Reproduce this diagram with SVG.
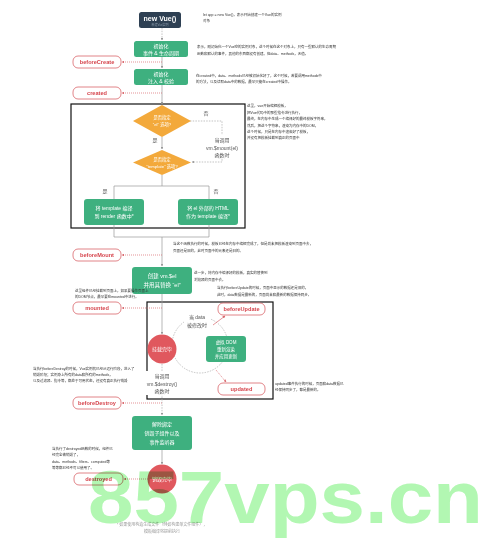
<svg xmlns="http://www.w3.org/2000/svg" width="500" height="544" viewBox="0 0 500 544">
<style>
text{font-family:"Liberation Sans","Noto Sans CJK SC",sans-serif;dominant-baseline:central}
.box{fill:#3eb07f}
.nav{fill:#2e4053}
.dia{fill:#f3a93b}
.circ{fill:#e0585e}
.wt{fill:#fff;font-size:5px;text-anchor:middle}
.ann{fill:#333;font-size:3.5px}
.lab{fill:#555;font-size:5px;text-anchor:middle}
.hook rect{fill:#fff;stroke:#d9666b;stroke-width:0.8}
.hook text{fill:#d6454d;font-size:5.6px;text-anchor:middle;font-weight:bold}
.hl{stroke:#d9666b;stroke-width:0.7;stroke-dasharray:1 1;fill:none}
.ml{stroke:#999;stroke-width:0.7;fill:none}
.dl{stroke:#aaa;stroke-width:0.7;stroke-dasharray:1.5 1.2;fill:none}
.frame{fill:none;stroke:#111;stroke-width:1.2}
</style>
<defs>
<marker id="ag" viewBox="0 0 6 6" refX="5" refY="3" markerWidth="4" markerHeight="4" orient="auto"><path d="M0,0L6,3L0,6Z" fill="#999"/></marker>
<marker id="ar" viewBox="0 0 6 6" refX="5" refY="3" markerWidth="4" markerHeight="4" orient="auto"><path d="M0,0L6,3L0,6Z" fill="#d9666b"/></marker>
</defs>
<rect width="500" height="544" fill="#fff"/>

<g id="frames">
<rect class="frame" x="71" y="104" width="174" height="124"/>
<rect class="frame" x="147" y="302" width="126" height="97"/>
</g>

<g id="connectors">
<line class="dl" x1="162" y1="28" x2="162" y2="40" marker-end="url(#ag)"/>
<line class="ml" x1="162" y1="57" x2="162" y2="68" marker-end="url(#ag)"/>
<line class="ml" x1="162" y1="85" x2="162" y2="104" marker-end="url(#ag)"/>
<line class="ml" x1="162" y1="137" x2="162" y2="149" marker-end="url(#ag)"/>
<path class="dl" d="M190,121H222V162H192" marker-end="url(#ag)"/>
<path class="ml" d="M162,175V186M114,199V186H209V199"/>
<path class="ml" d="M114,225V237H209V225M162,237V266" marker-end="url(#ag)"/>
<line class="ml" x1="162" y1="294" x2="162" y2="334" marker-end="url(#ag)"/>
<line class="dl" x1="162" y1="364" x2="162" y2="415" marker-end="url(#ag)"/>
<line class="ml" x1="162" y1="450" x2="162" y2="464" marker-end="url(#ag)"/>
<circle class="dl" cx="200" cy="345" r="28"/>
<line stroke="#d9666b" stroke-width="0.7" x1="213" y1="325" x2="225" y2="316" marker-end="url(#ar)"/>
<line class="hl" x1="216" y1="370" x2="226" y2="382" marker-end="url(#ar)"/>
<line class="hl" x1="162" y1="62" x2="122" y2="62" marker-end="url(#ar)"/>
<line class="hl" x1="162" y1="93" x2="122" y2="93" marker-end="url(#ar)"/>
<line class="hl" x1="162" y1="255" x2="122" y2="255" marker-end="url(#ar)"/>
<line class="hl" x1="162" y1="308" x2="122" y2="308" marker-end="url(#ar)"/>
<line class="hl" x1="162" y1="403" x2="122" y2="403" marker-end="url(#ar)"/>
<line class="hl" x1="148" y1="479" x2="124" y2="479" marker-end="url(#ar)"/>
</g>

<g id="labels">
<text class="lab" x="206" y="113">否</text>
<text class="lab" x="155" y="140">是</text>
<text class="lab" x="105" y="191">是</text>
<text class="lab" x="216" y="191">否</text>
<rect x="208" y="135" width="28" height="24" fill="#fff"/>
<text class="lab" x="222" y="140">当调用</text>
<text class="lab" x="222" y="148">vm.$mount(el)</text>
<text class="lab" x="222" y="155">函数时</text>
<rect x="184" y="313" width="27" height="16" fill="#fff"/>
<text class="lab" x="197" y="317">当 data</text>
<text class="lab" x="197" y="325">被修改时</text>
<rect x="146" y="371" width="32" height="24" fill="#fff"/>
<text class="lab" x="162" y="376">当调用</text>
<text class="lab" x="162" y="384">vm.$destroy()</text>
<text class="lab" x="162" y="391">函数时</text>
</g>

<g id="newvue">
<rect class="nav" x="139" y="12" width="42" height="16" rx="2.5"/>
<text class="wt" x="160" y="18" style="font-size:7px;font-weight:bold">new Vue()</text>
<text class="wt" x="160" y="24.5" style="font-size:3px;fill:#8a9aab">新建Vue实例</text>
</g>
<g id="init-events">
<rect class="box" x="134" y="41" width="54" height="16" rx="2.5"/>
<text class="wt" x="161" y="45.5">初始化</text>
<text class="wt" x="161" y="52.5">事件 &amp; 生命周期</text>
</g>
<g id="init-inject">
<rect class="box" x="134" y="69" width="54" height="16" rx="2.5"/>
<text class="wt" x="161" y="73.5">初始化</text>
<text class="wt" x="161" y="80.5">注入 &amp; 校验</text>
</g>
<g id="beforeCreate" class="hook"><rect x="73" y="56" width="48" height="12" rx="5"/><text x="97" y="62">beforeCreate</text></g>
<g id="created" class="hook"><rect x="73" y="87" width="48" height="12" rx="5"/><text x="97" y="93">created</text></g>

<g id="has-el">
<polygon class="dia" points="162,105 191,121 162,137 133,121"/>
<text class="wt" x="162" y="117" style="font-size:4.3px">是否指定</text>
<text class="wt" x="162" y="124.5" style="font-size:4.3px">“el” 选项?</text>
</g>
<g id="has-template">
<polygon class="dia" points="162,150 191,162.5 162,175 133,162.5"/>
<text class="wt" x="162" y="159" style="font-size:4.3px">是否指定</text>
<text class="wt" x="162" y="166" style="font-size:4.3px">“template” 选项?</text>
</g>
<g id="compile-template">
<rect class="box" x="84" y="199" width="60" height="26" rx="3"/>
<text class="wt" x="114" y="207.5">将 template 编译</text>
<text class="wt" x="114" y="215.5">到 render 函数中*</text>
</g>
<g id="compile-el">
<rect class="box" x="178" y="199" width="60" height="26" rx="3"/>
<text class="wt" x="208" y="207.5">将 el 外部的 HTML</text>
<text class="wt" x="208" y="215.5">作为 template 编译*</text>
</g>
<g id="beforeMount" class="hook"><rect x="73" y="249" width="48" height="12" rx="5"/><text x="97" y="255">beforeMount</text></g>
<g id="create-el">
<rect class="box" x="132" y="267" width="60" height="27" rx="3"/>
<text class="wt" x="162" y="276" style="font-size:5.5px">创建 vm.$el</text>
<text class="wt" x="162" y="285" style="font-size:5.5px">并用其替换 “el”</text>
</g>
<g id="mounted" class="hook"><rect x="73" y="302" width="48" height="12" rx="5"/><text x="97" y="308">mounted</text></g>
<g id="mounted-done">
<circle class="circ" cx="162" cy="349" r="14.5"/>
<text class="wt" x="162" y="349">挂载完毕</text>
</g>
<g id="beforeUpdate" class="hook"><rect x="218" y="303" width="47" height="12" rx="5"/><text x="241.5" y="309">beforeUpdate</text></g>
<g id="rerender">
<rect class="box" x="206" y="336" width="40" height="26" rx="3"/>
<text class="wt" x="226" y="342" style="font-size:4.5px">虚拟 DOM</text>
<text class="wt" x="226" y="349" style="font-size:4.5px">重新渲染</text>
<text class="wt" x="226" y="356" style="font-size:4.5px">并应用更新</text>
</g>
<g id="updated" class="hook"><rect x="218" y="383" width="47" height="12" rx="5"/><text x="241.5" y="389">updated</text></g>
<g id="beforeDestroy" class="hook"><rect x="73" y="397" width="48" height="12" rx="5"/><text x="97" y="403">beforeDestroy</text></g>
<g id="teardown">
<rect class="box" x="132" y="416" width="60" height="34" rx="3"/>
<text class="wt" x="162" y="424">解除绑定</text>
<text class="wt" x="162" y="433">销毁子组件以及</text>
<text class="wt" x="162" y="442">事件监听器</text>
</g>
<g id="destroyed" class="hook"><rect x="74" y="473" width="49" height="12" rx="5"/><text x="98.5" y="479">destroyed</text></g>
<g id="destroy-done">
<circle class="circ" cx="162" cy="479" r="14.5"/>
<text class="wt" x="162" y="479">销毁完毕</text>
</g>

<g id="annotations" class="ann">
<text x="203" y="15">let app = new Vue()，表示开始创建一个Vue的实例</text>
<text x="203" y="21">对象</text>
<text x="197" y="47">表示，刚初始化一个Vue空的实例对象，这个时候在这个对象上，只有一些默认的生命周期</text>
<text x="197" y="54">函数和默认的事件，其他的东西都没有创建。但data、methods，无值。</text>
<text x="196" y="76">在created中，data、methods已经被初始化好了，这个时候，若要调用methods中</text>
<text x="196" y="82">的方法，以及读取data中的数据，最早只能在created中操作。</text>
<text x="247" y="106">这里，vue开始编辑模板，</text>
<text x="247" y="113">把Vue代码中的那些指令进行执行，</text>
<text x="247" y="119">最终，在内存中生成一个编译好的最终模板字符串，</text>
<text x="247" y="126">然后，把这个字符串，渲染为内存中的DOM，</text>
<text x="247" y="132">这个时候，只是在内存中渲染好了模板，</text>
<text x="247" y="138">并没有把模板挂载到真正的页面中</text>
<text x="173" y="244">当这个函数执行的时候，模板已经在内存中编辑完成了，但是尚未把模板渲染到页面中去，</text>
<text x="173" y="251">页面还是旧的，此时页面中的元素还是旧的。</text>
<text x="194" y="273">这一步，将内存中编译好的模板，真实的替换到</text>
<text x="194" y="280">浏览器的页面中去。</text>
<text x="75" y="291">这里组件已经挂载到页面上，如果要操作页面上</text>
<text x="75" y="297">的DOM节点，最早要在mounted中进行。</text>
<text x="217" y="288">当执行beforeUpdate的时候，页面中显示的数据还是旧的，</text>
<text x="217" y="295">此时，data数据是最新的，页面尚未和最新的数据保持同步。</text>
<text x="33" y="369">当执行beforeDestroy的时候，Vue实例就已经从运行阶段，进入了</text>
<text x="33" y="375">销毁阶段；实例身上所有的data和所有的methods，</text>
<text x="33" y="381">以及过滤器、指令等，都处于可用状态，还没有真正执行销毁</text>
<text x="275" y="384">updated事件执行的时候，页面和data数据已</text>
<text x="275" y="390">经保持同步了，都是最新的。</text>
<text x="52" y="449">当执行了destroyed函数的时候，组件已</text>
<text x="52" y="455">经完全被销毁了，</text>
<text x="52" y="462">data、methods、filters、computed等</text>
<text x="52" y="468">等等都已经不可以使用了。</text>
<text x="162" y="524" style="text-anchor:middle;fill:#999;font-size:4px">* 如果使用构造生成文件（例如构建单文件组件），</text>
<text x="162" y="531" style="text-anchor:middle;fill:#999;font-size:4px">模板编译将提前执行</text>
</g>

<text x="88" y="523" textLength="395" lengthAdjust="spacingAndGlyphs" style="font-family:'Liberation Sans',sans-serif;font-size:75px;font-weight:bold;fill:#b2f7b2;mix-blend-mode:multiply;dominant-baseline:auto">857vps.cn</text>
</svg>
